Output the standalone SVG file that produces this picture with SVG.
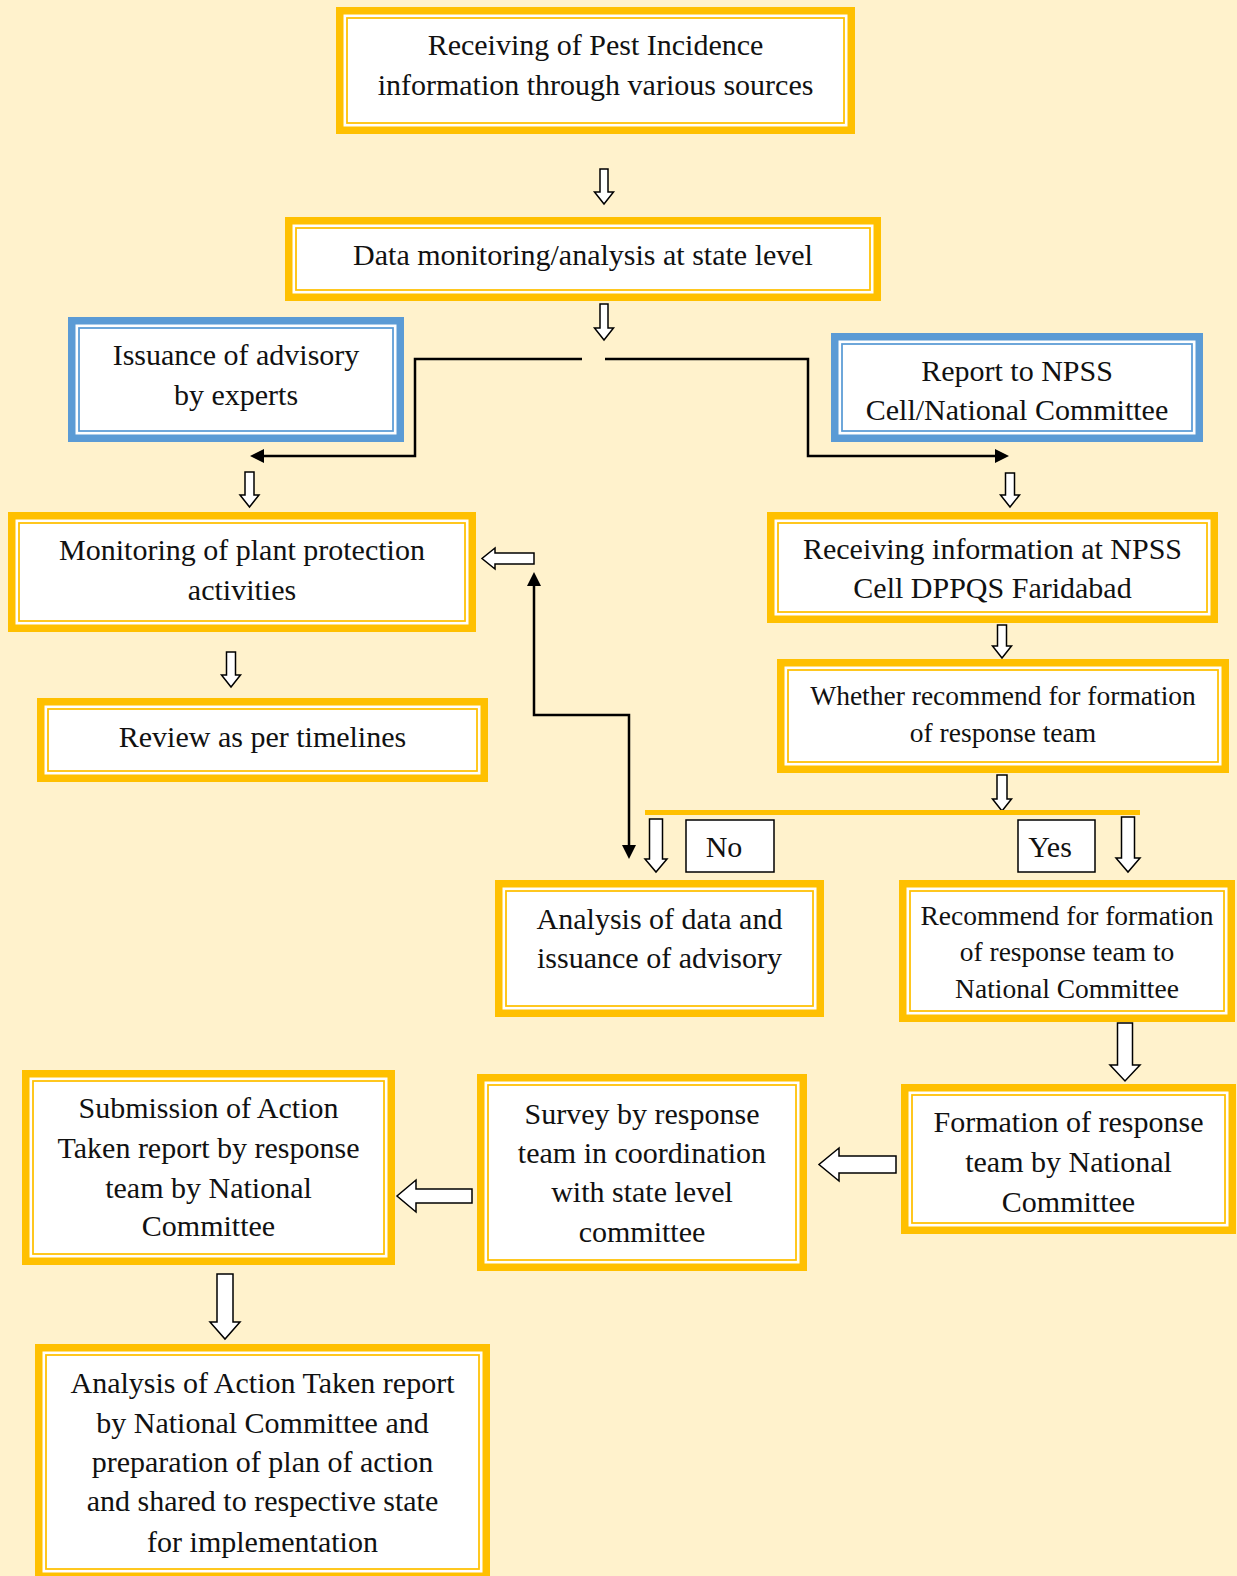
<svg xmlns="http://www.w3.org/2000/svg" width="1237" height="1576" viewBox="0 0 1237 1576">
  <defs>
    <style>
      .bg { fill: #FFF2CC; }
      .frame-y { fill: #FFFFFF; stroke: #FFC000; stroke-width: 7.5; }
      .line-y { fill: none; stroke: #FFC000; stroke-width: 1.75; }
      .frame-b { fill: #FFFFFF; stroke: #5B9BD5; stroke-width: 7.5; }
      .line-b { fill: none; stroke: #5B9BD5; stroke-width: 1.75; }
      .t { font-family: "Liberation Serif", "Times New Roman", serif; font-size: 30px; text-anchor: middle; fill: #111111; }
      .s { font-size: 27.5px; }
      .blk { fill: #FFFFFF; stroke: #000000; stroke-width: 1.5; stroke-linejoin: miter; }
      .wire { fill: none; stroke: #000000; stroke-width: 2.5; }
      .tag { fill: #FFFFFF; stroke: #000000; stroke-width: 1.5; }
    </style>
    <marker id="head" markerUnits="userSpaceOnUse" markerWidth="15" markerHeight="14" refX="1" refY="7" orient="auto-start-reverse">
      <path d="M0,0 L14,7 L0,14 z" fill="#000000"/>
    </marker>
  </defs>

  <rect class="bg" x="0" y="0" width="1237" height="1576"/>

  <!-- connectors -->
  <g id="connectors">
    <!-- hollow block arrows -->
    <polygon class="blk" points="600,169 608,169 608,192 613.5,192 604,204 594.5,192 600,192"/>
    <polygon class="blk" points="600,304 608,304 608,328 613.5,328 604,340 594.5,328 600,328"/>
    <polygon class="blk" points="245,472 254,472 254,495 259,495 249.5,507 240,495 245,495"/>
    <polygon class="blk" points="1005.5,473 1014.5,473 1014.5,495 1019.5,495 1010,507 1000.5,495 1005.5,495"/>
    <polygon class="blk" points="226.5,652 235.5,652 235.5,675 240.5,675 231,687 221.5,675 226.5,675"/>
    <polygon class="blk" points="997.5,625 1006.5,625 1006.5,646 1011.5,646 1002,658 992.5,646 997.5,646"/>
    <polygon class="blk" points="997,775 1007,775 1007,799 1011.5,799 1002,811 992.5,799 997,799"/>
    <polygon class="blk" points="649.5,819 662.5,819 662.5,859 667,859 656,872 645,859 649.5,859"/>
    <polygon class="blk" points="1121.5,817 1134.5,817 1134.5,858 1140,858 1128,872 1116,858 1121.5,858"/>
    <polygon class="blk" points="1117.5,1023 1132.5,1023 1132.5,1065 1140,1065 1125,1081 1110,1065 1117.5,1065"/>
    <polygon class="blk" points="217,1274 233,1274 233,1322 240,1322 225,1339 210,1322 217,1322"/>
    <polygon class="blk" points="896,1156 839,1156 839,1148 819,1164.5 839,1181 839,1173 896,1173"/>
    <polygon class="blk" points="472,1189 416,1189 416,1180 397,1196 416,1212 416,1203 472,1203"/>
    <polygon class="blk" points="534,553 495,553 495,548 482,558.5 495,569 495,564 534,564"/>

    <!-- split lines under the state-level box -->
    <path class="wire" d="M582,359 H415 V456 H263" marker-end="url(#head)"/>
    <path class="wire" d="M605,359 H808 V456 H996" marker-end="url(#head)"/>
    <!-- two-way link between monitoring and data analysis -->
    <path class="wire" d="M534,585 V715 H629 V846" marker-start="url(#head)" marker-end="url(#head)"/>

    <!-- decision bar -->
    <rect x="645" y="810" width="495" height="5" fill="#FFC000"/>
  </g>

  <g id="label-no">
    <rect class="tag" x="686" y="820" width="88" height="52"/>
    <text class="t" x="724" y="857">No</text>
  </g>
  <g id="label-yes">
    <rect class="tag" x="1018" y="820" width="77" height="52"/>
    <text class="t" x="1050" y="857">Yes</text>
  </g>

  <g id="receiving-pest-info">
    <rect class="frame-y" x="339.75" y="10.75" width="511.5" height="119.5"/>
    <rect class="line-y" x="347" y="18" width="497" height="105"/>
    <text class="t" x="595.5" y="55">Receiving of Pest Incidence</text>
    <text class="t" x="595.5" y="94.5">information through various sources</text>
  </g>

  <g id="state-analysis">
    <rect class="frame-y" x="288.75" y="220.75" width="588.5" height="76.5"/>
    <rect class="line-y" x="296" y="228" width="574" height="62"/>
    <text class="t" x="583" y="265">Data monitoring/analysis at state level</text>
  </g>

  <g id="issuance-advisory">
    <rect class="frame-b" x="71.75" y="320.75" width="328.5" height="117.5"/>
    <rect class="line-b" x="79" y="328" width="314" height="103"/>
    <text class="t" x="236" y="365">Issuance of advisory</text>
    <text class="t" x="236" y="405">by experts</text>
  </g>

  <g id="report-npss">
    <rect class="frame-b" x="834.75" y="336.75" width="364.5" height="101.5"/>
    <rect class="line-b" x="842" y="344" width="350" height="87"/>
    <text class="t" x="1017" y="381">Report to NPSS</text>
    <text class="t" x="1017" y="420">Cell/National Committee</text>
  </g>

  <g id="monitoring-protection">
    <rect class="frame-y" x="11.75" y="515.75" width="460.5" height="112.5"/>
    <rect class="line-y" x="19" y="523" width="446" height="98"/>
    <text class="t" x="242" y="560">Monitoring of plant protection</text>
    <text class="t" x="242" y="600">activities</text>
  </g>

  <g id="receiving-npss">
    <rect class="frame-y" x="770.75" y="515.75" width="443.5" height="103.5"/>
    <rect class="line-y" x="778" y="523" width="429" height="89"/>
    <text class="t" x="992.5" y="559">Receiving information at NPSS</text>
    <text class="t" x="992.5" y="598">Cell DPPQS Faridabad</text>
  </g>

  <g id="review-timelines">
    <rect class="frame-y" x="40.75" y="701.75" width="443.5" height="76.5"/>
    <rect class="line-y" x="48" y="709" width="429" height="62"/>
    <text class="t" x="262.5" y="747">Review as per timelines</text>
  </g>

  <g id="whether-recommend">
    <rect class="frame-y" x="780.75" y="662.75" width="444.5" height="106.5"/>
    <rect class="line-y" x="788" y="670" width="430" height="92"/>
    <text class="t s" x="1003" y="705">Whether recommend for formation</text>
    <text class="t s" x="1003" y="742">of response team</text>
  </g>

  <g id="analysis-advisory">
    <rect class="frame-y" x="498.75" y="883.75" width="321.5" height="129.5"/>
    <rect class="line-y" x="506" y="891" width="307" height="115"/>
    <text class="t" x="659.5" y="929">Analysis of data and</text>
    <text class="t" x="659.5" y="968">issuance of advisory</text>
  </g>

  <g id="recommend-formation">
    <rect class="frame-y" x="902.75" y="883.75" width="328.5" height="134.5"/>
    <rect class="line-y" x="910" y="891" width="314" height="120"/>
    <text class="t s" x="1067" y="925">Recommend for formation</text>
    <text class="t s" x="1067" y="961">of response team to</text>
    <text class="t s" x="1067" y="998">National Committee</text>
  </g>

  <g id="formation-team">
    <rect class="frame-y" x="904.75" y="1087.75" width="327.5" height="142.5"/>
    <rect class="line-y" x="912" y="1095" width="313" height="128"/>
    <text class="t" x="1068.5" y="1132">Formation of response</text>
    <text class="t" x="1068.5" y="1172">team by National</text>
    <text class="t" x="1068.5" y="1212">Committee</text>
  </g>

  <g id="survey-team">
    <rect class="frame-y" x="480.75" y="1077.75" width="322.5" height="189.5"/>
    <rect class="line-y" x="488" y="1085" width="308" height="175"/>
    <text class="t" x="642" y="1124">Survey by response</text>
    <text class="t" x="642" y="1163">team in coordination</text>
    <text class="t" x="642" y="1202">with state level</text>
    <text class="t" x="642" y="1242">committee</text>
  </g>

  <g id="submission-atr">
    <rect class="frame-y" x="25.75" y="1073.75" width="365.5" height="187.5"/>
    <rect class="line-y" x="33" y="1081" width="351" height="173"/>
    <text class="t" x="208.5" y="1118">Submission of Action</text>
    <text class="t" x="208.5" y="1158">Taken report by response</text>
    <text class="t" x="208.5" y="1198">team by National</text>
    <text class="t" x="208.5" y="1236">Committee</text>
  </g>

  <g id="analysis-atr">
    <rect class="frame-y" x="38.75" y="1347.75" width="447.5" height="228.5"/>
    <rect class="line-y" x="46" y="1355" width="433" height="214"/>
    <text class="t" x="262.5" y="1393">Analysis of Action Taken report</text>
    <text class="t" x="262.5" y="1433">by National Committee and</text>
    <text class="t" x="262.5" y="1472">preparation of plan of action</text>
    <text class="t" x="262.5" y="1511">and shared to respective state</text>
    <text class="t" x="262.5" y="1552">for implementation</text>
  </g>
</svg>
